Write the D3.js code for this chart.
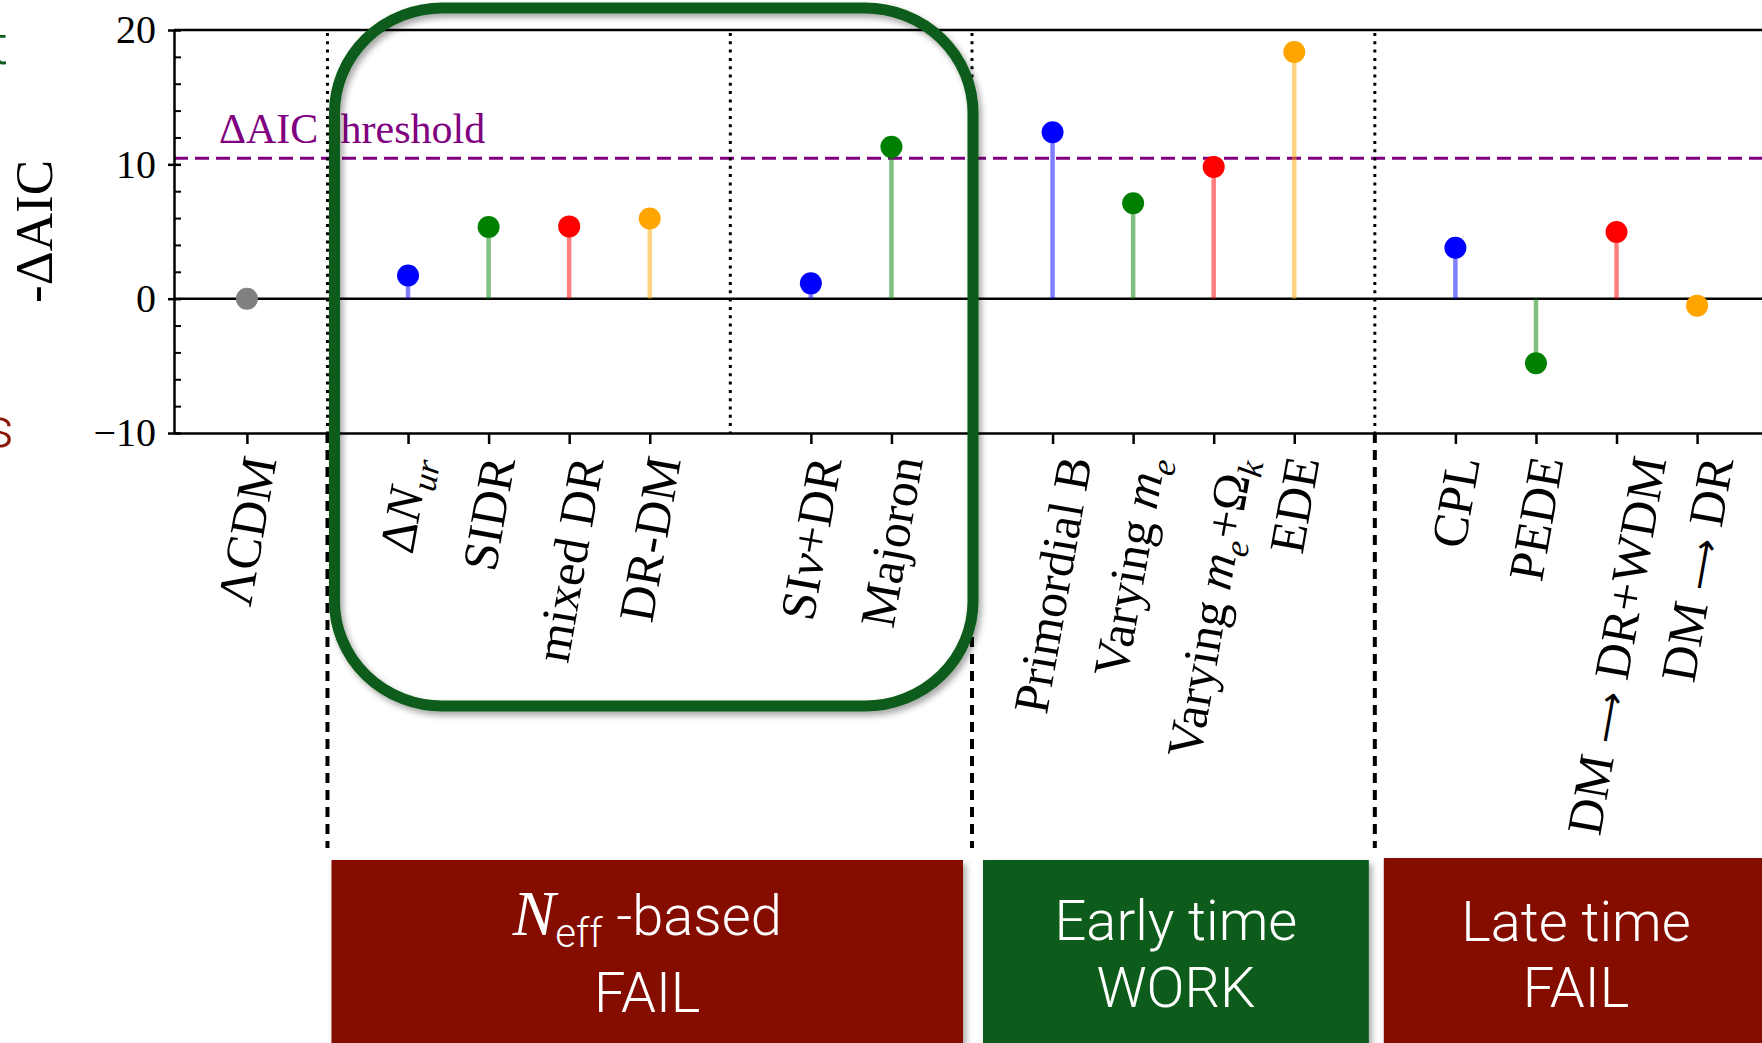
<!DOCTYPE html>
<html><head><meta charset="utf-8">
<script src="https://cdn.jsdelivr.net/npm/d3@7"></script>
<style>body{margin:0;background:#fff;} svg{display:block;}</style>
</head><body>
<svg id="chart" width="1762" height="1043"></svg>
<script>
// ---- data ----
const slots = ["LCDM","sep1","dNur","SIDR","mixedDR","DRDM","sep2","SInuDR","Majoron","sep3",
  "PrimB","VarMe","VarMeOk","EDE","sep4","CPL","PEDE","DMDRWDM","DMDR"];
const models = ["LCDM","dNur","SIDR","mixedDR","DRDM","SInuDR","Majoron","PrimB","VarMe","VarMeOk","EDE","CPL","PEDE","DMDRWDM","DMDR"];
const values = [0, 1.73, 5.33, 5.38, 5.97, 1.14, 11.3, 12.39, 7.11, 9.81, 18.36, 3.79, -4.81, 4.96, -0.52];
const markerColors = ["#808080","#0000ff","#008000","#ff0000","#ffa500","#0000ff","#008000","#0000ff","#008000","#ff0000","#ffa500","#0000ff","#008000","#ff0000","#ffa500"];
const labelParts = [
  [["ΛCDM",""]],
  [["Δ",""],["N","i"],["ur","subi"]],
  [["SIDR",""]],
  [["mixed DR",""]],
  [["DR-DM",""]],
  [["SI",""],["ν","i"],["+DR",""]],
  [["Majoron",""]],
  [["Primordial B",""]],
  [["Varying ",""],["m","i"],["e","subi"]],
  [["Varying ",""],["m","i"],["e","subi"],["+Ω",""],["k","subi"]],
  [["EDE",""]],
  [["CPL",""]],
  [["PEDE",""]],
  [["DM ",""],["⟶","arrow"],[" DR+WDM",""]],
  [["DM ",""],["⟶","arrow"],[" DR",""]]
];
const separators = ["sep1","sep2","sep3","sep4"];
const extendedSeparators = ["sep1","sep3","sep4"];
const yMajorTicks = [-10, 0, 10, 20];
const yMinorTicks = [-8,-6,-4,-2,2,4,6,8,12,14,16,18];
const threshold = 10.46;
const thresholdLabel = "ΔAIC threshold";
const yLabel = "-ΔAIC";
const groupBoxes = [
  {from:"sep1", to:"sep3", color:"#851104", lines:["Neff","FAIL"]},
  {from:"sep3", to:"sep4", color:"#0d5c1a", lines:["Early time","WORK"]},
  {from:"sep4", to:null,  color:"#851104", lines:["Late time","FAIL"]}
];

// ---- layout ----
const W = 1762, H = 1043;
const plotLeft = 174, plotRight = 1770, plotTop = 30, plotBottom = 433;
const serif = "'Liberation Serif', 'Times New Roman', serif";
const sans = "Roboto, 'Liberation Sans', sans-serif";

const svg = d3.select("#chart");
const defs = svg.append("defs");
const f = defs.append("filter").attr("id","shadow").attr("x","-10%").attr("y","-10%").attr("width","130%").attr("height","130%");
f.append("feDropShadow").attr("dx",3).attr("dy",4).attr("stdDeviation",3).attr("flood-color","#000").attr("flood-opacity",0.35);

const x = d3.scalePoint().domain(slots).range([plotLeft, plotRight]).padding(0.905);
const y = d3.scaleLinear().domain([-10, 20]).range([plotBottom, plotTop]);

// cropped fragments of neighbouring panel text at the far left
svg.append("text").attr("x",8).attr("y",64).attr("text-anchor","end")
  .attr("font-family",sans).attr("font-weight",300).attr("font-size",56).attr("fill","#0d5c1a").text("t");
svg.append("text").attr("x",14).attr("y",447).attr("text-anchor","end")
  .attr("font-family",sans).attr("font-weight",300).attr("font-size",56).attr("fill","#8a1608").text("s");

const g = svg.append("g");

// threshold
g.append("line").attr("x1",plotLeft).attr("x2",plotRight).attr("y1",y(threshold)).attr("y2",y(threshold))
  .attr("stroke","#800080").attr("stroke-width",3).attr("stroke-dasharray","14,7");
g.append("text").attr("x",plotLeft+45).attr("y",y(threshold)-15)
  .attr("font-family",serif).attr("font-size",42).attr("fill","#800080").text(thresholdLabel);

// separators inside plot (dotted)
g.selectAll(".sep").data(separators).join("line")
  .attr("x1",d=>x(d)).attr("x2",d=>x(d)).attr("y1",y(20)+3).attr("y2",y(-10))
  .attr("stroke","#000").attr("stroke-width",3).attr("stroke-dasharray","3,5.3");
// separators below axis (dashed)
g.selectAll(".sepx").data(extendedSeparators).join("line")
  .attr("x1",d=>x(d)).attr("x2",d=>x(d)).attr("y1",y(-10)).attr("y2",848)
  .attr("stroke","#000").attr("stroke-width",4).attr("stroke-dasharray","10,7");

// zero line
g.append("line").attr("x1",plotLeft).attr("x2",plotRight).attr("y1",y(0)).attr("y2",y(0))
  .attr("stroke","#000").attr("stroke-width",2.5);
// top spine
g.append("line").attr("x1",plotLeft).attr("x2",plotRight).attr("y1",y(20)).attr("y2",y(20))
  .attr("stroke","#000").attr("stroke-width",2.5);

// stems
g.selectAll(".stem").data(models).join("line")
  .attr("x1",d=>x(d)).attr("x2",d=>x(d))
  .attr("y1",y(0)).attr("y2",(d,i)=>y(values[i]))
  .attr("stroke",(d,i)=>markerColors[i]).attr("stroke-opacity",0.5).attr("stroke-width",4.5);
// markers
g.selectAll(".dot").data(models).join("circle")
  .attr("cx",d=>x(d)).attr("cy",(d,i)=>y(values[i])).attr("r",11)
  .attr("fill",(d,i)=>markerColors[i]);

// y axis
const yAx = g.append("g").attr("transform",`translate(${plotLeft},0)`)
  .call(d3.axisLeft(y).tickValues(yMajorTicks).tickSize(6).tickSizeOuter(0).tickPadding(12)
    .tickFormat(d=> d<0 ? "\u2212"+Math.abs(d) : d));
yAx.selectAll(".tick line").attr("x1",7).attr("stroke-width",2.5);
yAx.select(".domain").attr("stroke-width",2.5);
yAx.selectAll("text").attr("font-family",serif).attr("font-size",40).attr("fill","#000");
const yMin = g.append("g").attr("transform",`translate(${plotLeft},0)`)
  .call(d3.axisRight(y).tickValues(yMinorTicks).tickSize(7).tickFormat(""));
yMin.select(".domain").remove();
yMin.selectAll(".tick line").attr("stroke-width",2);

// x axis
const xAx = g.append("g").attr("transform",`translate(0,${plotBottom})`)
  .call(d3.axisBottom(x).tickValues(models).tickSize(11).tickSizeOuter(0).tickFormat(""));
xAx.select(".domain").attr("stroke-width",2.5);
xAx.selectAll(".tick line").attr("stroke-width",2.5);

// y label
svg.append("text").attr("transform",`translate(52,${(plotTop+plotBottom)/2}) rotate(-90)`)
  .attr("text-anchor","middle").attr("font-family",serif).attr("font-size",53).attr("fill","#000").text(yLabel);

// category labels rotated 80 deg
const ang = -80, rad = ang*Math.PI/180, cs = Math.cos(rad), sn = Math.sin(rad);
const labelTop = 452, fs = 50;
const lg = svg.append("g");
models.forEach((m,i)=>{
  const t = lg.append("text").attr("font-family",serif).attr("font-size",fs).attr("fill","#000");
  let shifted = false;
  labelParts[i].forEach(([txt,st])=>{
    const sp = t.append("tspan").text(txt);
    const sub = st.startsWith("sub");
    if (st.endsWith("i")) sp.attr("font-style","italic");
    if (st==="arrow") sp.attr("font-family","'DejaVu Sans', sans-serif").attr("font-weight",200).attr("font-size",fs*0.72);
    if (sub) { sp.attr("font-size",fs*0.7); if(!shifted){sp.attr("dy",fs*0.22); shifted=true;} }
    else if (shifted) { sp.attr("dy",-fs*0.22); shifted=false; }
  });
  const b = t.node().getBBox();
  const cr = [[b.x,b.y],[b.x+b.width,b.y],[b.x,b.y+b.height],[b.x+b.width,b.y+b.height]]
    .map(([px,py])=>[px*cs - py*sn, px*sn + py*cs]);
  const minX = d3.min(cr,d=>d[0]), maxX = d3.max(cr,d=>d[0]), minY = d3.min(cr,d=>d[1]);
  t.attr("transform",`translate(${x(m)-(minX+maxX)/2},${labelTop-minY}) rotate(${ang})`);
});

// green rounded highlight
svg.append("rect").attr("x",x("sep1")+7).attr("y",8)
  .attr("width",x("sep3")+1-(x("sep1")+7)).attr("height",706-8)
  .attr("rx",108).attr("ry",105).attr("fill","none")
  .attr("stroke","#0d5c1a").attr("stroke-width",11).attr("filter","url(#shadow)");

// group boxes
const bg = svg.append("g");
groupBoxes.forEach((bx,k)=>{
  const x0 = x(bx.from) + (k===0?4:(k===1?11:9));
  const x1 = bx.to ? x(bx.to) - (k===0?9:6) : W+20;
  const top = k===2 ? 858 : 860;
  bg.append("rect").attr("x",x0).attr("y",top).attr("width",x1-x0).attr("height",H-top+20)
    .attr("fill",bx.color).attr("filter","url(#shadow)");
  const cx = bx.to ? (x0+x1)/2 : 1576;
  const base1 = k===0 ? 935 : (k===1 ? 940 : 941);
  const base2 = k===0 ? 1012 : 1007;
  const t1 = bg.append("text").attr("x",cx).attr("y",base1).attr("text-anchor","middle")
    .attr("font-family",sans).attr("font-weight",300).attr("font-size",56).attr("fill","#fff");
  if (bx.lines[0]==="Neff") {
    t1.append("tspan").attr("font-family",serif).attr("font-style","italic").attr("font-weight",400).attr("font-size",64).text("N");
    t1.append("tspan").attr("font-size",40).attr("dy",12).text("eff");
    t1.append("tspan").attr("dy",-12).text(" -based");
  } else t1.text(bx.lines[0]);
  bg.append("text").attr("x",cx).attr("y",base2).attr("text-anchor","middle")
    .attr("font-family",sans).attr("font-weight",300).attr("font-size",56).attr("fill","#fff").text(bx.lines[1]);
});
</script>
</body></html>
